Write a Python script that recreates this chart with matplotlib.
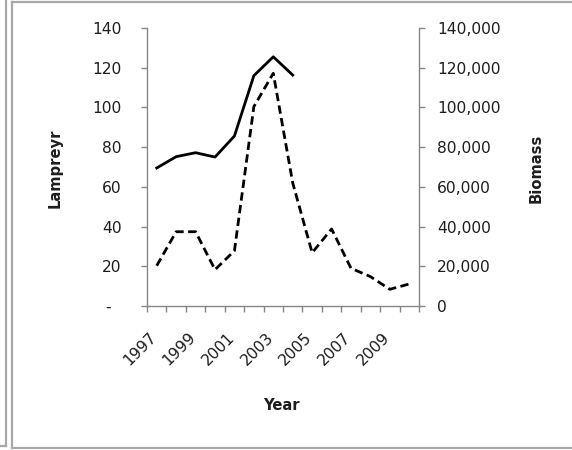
import matplotlib
matplotlib.use('Agg')
import matplotlib.pyplot as plt
from matplotlib.ticker import FuncFormatter, FixedLocator
from matplotlib.lines import Line2D
from matplotlib.transforms import ScaledTranslation

# ---- data ----
years = [1997, 1998, 1999, 2000, 2001, 2002, 2003, 2004, 2005, 2006, 2007, 2008, 2009, 2010]
lamprey_years = [1997, 1998, 1999, 2000, 2001, 2002, 2003, 2004]
lamprey = [69.5, 75.2, 77.2, 75.0, 85.6, 116.0, 125.5, 116.3]
biomass = [20300, 37400, 37400, 18300, 27800, 100400, 117200, 62000,
           26800, 38800, 19000, 14800, 8400, 11100]
year_labels = ['1997', '1999', '2001', '2003', '2005', '2007', '2009']
left_ticks = [0, 20, 40, 60, 80, 100, 120, 140]
right_ticks = [0, 20000, 40000, 60000, 80000, 100000, 120000, 140000]

W, H, DPI = 572, 450, 100
plt.rcParams['font.family'] = ['DejaVu Sans']
AX_GRAY = '#868686'
TXT = '#1e1e1e'
FS = 11.2
LFS = 10.6

fig = plt.figure(figsize=(W / DPI, H / DPI), dpi=DPI)
fig.patch.set_facecolor('white')

# borders (cropped Excel chart frames)
def px(x, y):
    return x / W, 1 - y / H
border_col = '#a8a8a8'
fig.add_artist(Line2D([px(6, 0)[0], px(6, 0)[0]], [1.0, px(0, 446)[1]], color=border_col, lw=1.6))
fig.add_artist(Line2D([0, px(6, 0)[0]], [px(0, 446)[1]] * 2, color=border_col, lw=1.6))
fig.add_artist(Line2D([px(12, 0)[0]] * 2, [px(0, 1.5)[1], px(0, 448)[1]], color=border_col, lw=1.6))
fig.add_artist(Line2D([px(12, 0)[0], 1.0], [px(0, 448)[1]] * 2, color=border_col, lw=1.6))
fig.add_artist(Line2D([px(12, 0)[0], 1.0], [px(0, 1.5)[1]] * 2, color=border_col, lw=1.6))

x0, x1, yt, yb = 147, 419, 28, 306
ax = fig.add_axes([x0 / W, 1 - yb / H, (x1 - x0) / W, (yb - yt) / H])
ax2 = ax.twinx()

idx = {y: i for i, y in enumerate(years)}
lx = [idx[y] for y in lamprey_years]
bx = [idx[y] for y in years]

ax.plot(lx, lamprey, color='black', lw=2.0, solid_joinstyle='round', zorder=3)
ax2.plot(bx, biomass, color='black', lw=2.0, dashes=(3.0, 1.6), dash_capstyle='butt', zorder=3)

ax.set_xlim(-0.5, len(years) - 0.5)
ax.set_ylim(0, 140)
ax2.set_ylim(0, 140000)

# spines
for a in (ax, ax2):
    for s in a.spines.values():
        s.set_visible(False)
ax.spines['left'].set_visible(True)
ax.spines['bottom'].set_visible(True)
ax2.spines['right'].set_visible(True)
for s in (ax.spines['left'], ax.spines['bottom'], ax2.spines['right']):
    s.set_color(AX_GRAY)
    s.set_linewidth(1.0)

# left y ticks
ax.yaxis.set_major_locator(FixedLocator(left_ticks))
ax.yaxis.set_major_formatter(FuncFormatter(lambda v, p: '-  ' if v == 0 else f'{int(v)}'))
ax.tick_params(axis='y', direction='out', length=4.3, width=1.0, color=AX_GRAY,
               pad=14.0, labelsize=FS, labelcolor=TXT)

# right y ticks
ax2.yaxis.set_major_locator(FixedLocator(right_ticks))
ax2.yaxis.set_major_formatter(FuncFormatter(lambda v, p: f'{int(v):,}'))
ax2.tick_params(axis='y', direction='out', length=4.3, width=1.0, color=AX_GRAY,
                pad=8.6, labelsize=FS, labelcolor=TXT)

# x ticks: boundaries as minor ticks, labels every other year
ax.xaxis.set_minor_locator(FixedLocator([i - 0.5 for i in range(len(years) + 1)]))
ax.xaxis.set_major_locator(FixedLocator([idx[int(t)] for t in year_labels]))
ax.set_xticklabels(year_labels, fontsize=FS, color=TXT)
ax.tick_params(axis='x', which='minor', direction='out', length=4.3, width=1.0, color=AX_GRAY)
ax.tick_params(axis='x', which='major', length=0, pad=17, labelsize=FS, labelcolor=TXT)
shift = ScaledTranslation(3 / DPI, 0, fig.dpi_scale_trans)
for tick in ax.xaxis.get_major_ticks():
    lab = tick.label1
    lab.set_rotation(45)
    lab.set_ha('right')
    lab.set_va('top')
    lab.set_fontsize(FS)
    lab.set_transform(lab.get_transform() + shift)

fig.text(55 / W, 1 - 168 / H, 'Lampreyr', rotation=90, ha='center', va='center',
         fontsize=LFS, fontweight='bold', color=TXT)
fig.text(536 / W, 1 - 168 / H, 'Biomass', rotation=90, ha='center', va='center',
         fontsize=LFS, fontweight='bold', color=TXT)
fig.text(281 / W, 1 - 405 / H, 'Year', ha='center', va='center',
         fontsize=LFS, fontweight='bold', color=TXT)

fig.savefig('out.png', dpi=DPI, facecolor='white')
